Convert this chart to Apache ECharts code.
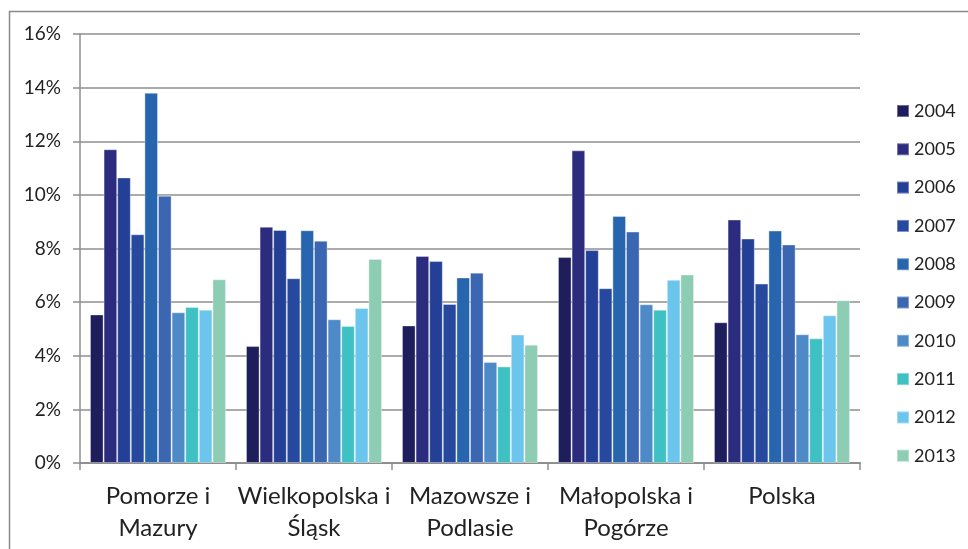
<!DOCTYPE html>
<html>
<head>
<meta charset="utf-8">
<script src="https://cdn.jsdelivr.net/npm/echarts@6/dist/echarts.min.js"></script>
<style>
  html, body { margin: 0; padding: 0; background: #ffffff; }
  #chart { width: 968px; height: 549px; }
</style>
</head>
<body>
<div id="chart"></div>
<script>
// Regions compared (category axis)
const regions = ['Pomorze i\nMazury', 'Wielkopolska i\nŚląsk', 'Mazowsze i\nPodlasie', 'Małopolska i\nPogórze', 'Polska'];

// Years shown as series
const years = ['2004', '2005', '2006', '2007', '2008', '2009', '2010', '2011', '2012', '2013'];

// Values in percent, one array per year, ordered as regions
const v2004 = [5.54, 4.36, 5.13, 7.68, 5.25];
const v2005 = [11.70, 8.81, 7.72, 11.66, 9.08];
const v2006 = [10.65, 8.69, 7.53, 7.94, 8.37];
const v2007 = [8.53, 6.89, 5.93, 6.52, 6.69];
const v2008 = [13.81, 8.68, 6.92, 9.21, 8.67];
const v2009 = [9.97, 8.29, 7.10, 8.63, 8.15];
const v2010 = [5.62, 5.36, 3.77, 5.92, 4.80];
const v2011 = [5.82, 5.11, 3.60, 5.72, 4.65];
const v2012 = [5.72, 5.78, 4.79, 6.83, 5.51];
const v2013 = [6.85, 7.61, 4.41, 7.03, 6.07];

const yearValues = [v2004, v2005, v2006, v2007, v2008, v2009, v2010, v2011, v2012, v2013];

const colors = ['#1f1e5c', '#2b2c7d', '#233f96', '#26489e', '#2766ae',
                '#3b67b2', '#4f8ac8', '#3fc1c3', '#6cc5ec', '#8ccdb4'];

const FONT = 'Lato';
const TEXT = '#222222';
const LINE = '#8f8f8f';

const chart = echarts.init(document.getElementById('chart'), null, { renderer: 'canvas' });

chart.setOption({
  backgroundColor: '#ffffff',
  animation: false,
  color: colors,
  graphic: [{
    type: 'rect',
    shape: { x: 9.5, y: 11.5, width: 1000, height: 600 },
    style: { fill: 'none', stroke: '#8a8a8a', lineWidth: 1.5 },
    silent: true
  }],
  grid: { left: 80, right: 108, top: 34, bottom: 86, containLabel: false },
  legend: {
    orient: 'vertical',
    left: 891,
    top: 97,
    itemWidth: 12,
    itemHeight: 12,
    itemGap: 20.3,
    icon: 'rect',
    textStyle: { fontFamily: FONT, fontSize: 18, color: TEXT },
    data: years
  },
  xAxis: {
    type: 'category',
    data: regions,
    axisLine: { lineStyle: { color: LINE, width: 2 } },
    axisTick: { show: true, alignWithLabel: false, length: 7, lineStyle: { color: LINE, width: 1.5 } },
    axisLabel: {
      interval: 0,
      margin: 17,
      fontFamily: FONT,
      fontSize: 24,
      lineHeight: 32,
      color: TEXT
    }
  },
  yAxis: {
    type: 'value',
    min: 0,
    max: 16,
    interval: 2,
    axisLine: { show: true, lineStyle: { color: LINE, width: 1.5 } },
    axisTick: { show: true, length: 7, lineStyle: { color: LINE, width: 1.5 } },
    splitLine: { lineStyle: { color: LINE, width: 1.5 } },
    axisLabel: {
      margin: 19,
      fontFamily: FONT,
      fontSize: 19,
      color: TEXT,
      formatter: v => v + '%'
    }
  },
  series: years.map((y, i) => ({
    name: y,
    type: 'bar',
    data: yearValues[i],
    barGap: '0%',
    barCategoryGap: '12.8%',
    itemStyle: { color: colors[i], borderColor: 'rgba(255,255,255,0.35)', borderWidth: 1 }
  }))
});
</script>
</body>
</html>
